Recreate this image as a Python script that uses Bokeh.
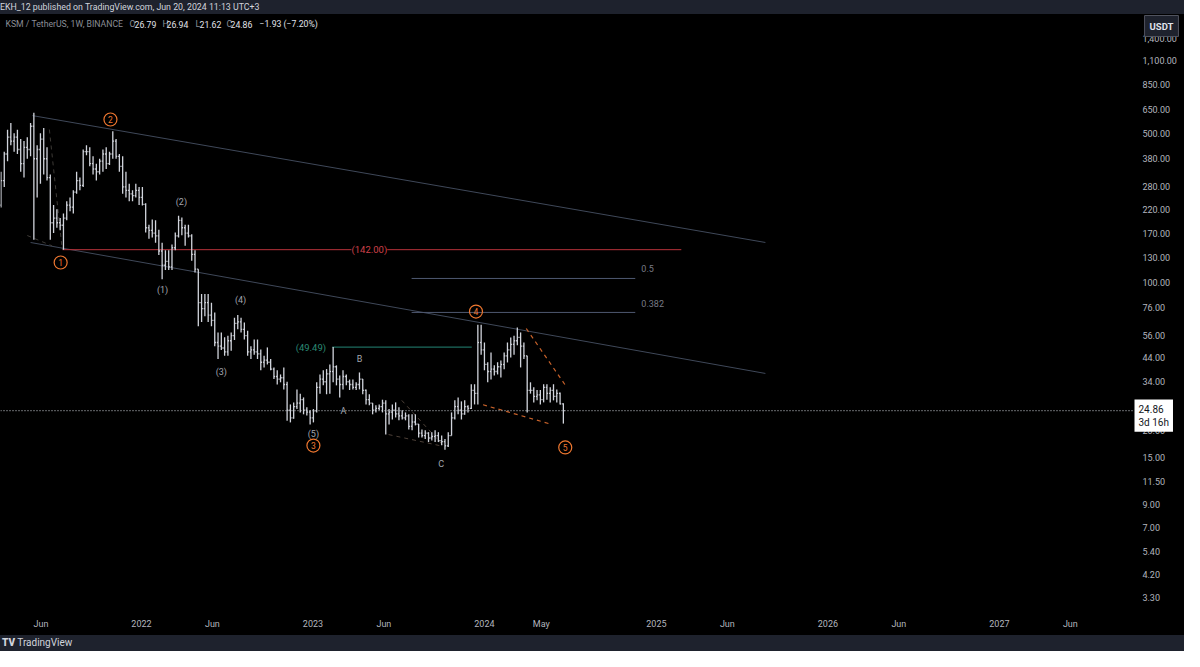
import pandas as pd
from bokeh.plotting import figure
from bokeh.models import (Range1d, FixedTicker, NumeralTickFormatter, Label,
                          Div, ColumnDataSource)
from bokeh.layouts import column
from bokeh.core.properties import value
from bokeh.embed import file_html
from bokeh.resources import INLINE

# ---------------- data (weekly KSM/USDT) ----------------
first_week = "2021-03-08"
opens = [230, 300, 400, 480, 460, 480, 420, 360, 430, 420,
         540, 380, 420, 470, 380, 310, 190, 200, 190, 185,
         200, 230, 225, 265, 300, 285, 410, 410, 360, 340,
         330, 370, 400, 360, 400, 460, 390, 350, 280, 270,
         260, 255, 270, 250, 232, 180, 175, 170, 165, 140,
         120, 125, 118, 145, 165, 195, 180, 170, 165, 135,
         115, 80, 75, 80, 70, 66, 52, 50, 49, 47,
         53, 56, 64, 65, 60, 56, 47, 48, 47, 46,
         42, 43, 42, 39, 36, 35, 35.5, 33, 25, 23,
         26, 27, 28, 25, 24.5, 23, 24.8, 32, 35, 34,
         37, 38, 40, 35, 33, 36, 34, 33, 32, 33,
         35, 31, 28, 27, 25, 25.5, 26, 27, 24, 24.5,
         25, 24, 23.5, 23, 23.5, 21, 22, 21.5, 19.5, 19,
         19.5, 18.5, 18.8, 19, 18, 17.8, 17, 19, 23, 26,
         25, 24, 26, 25.5, 31, 30, 52, 48, 41, 38,
         39, 38, 40, 41, 45, 48, 51, 53, 55, 50,
         45, 31, 31, 29, 29.5, 28, 32, 30, 31, 29,
         30, 26.79]
highs = [330, 410, 520, 560, 500, 520, 470, 460, 480, 560,
         625, 440, 500, 530, 430, 320, 230, 220, 200, 210,
         240, 250, 270, 330, 310, 420, 440, 430, 390, 360,
         380, 420, 430, 410, 512, 470, 400, 390, 330, 290,
         270, 290, 280, 280, 235, 186, 197, 195, 176, 153,
         141, 141, 150, 171, 205, 201, 186, 186, 168, 141,
         115, 88, 88, 88, 80, 72, 58, 58, 55, 56,
         58, 68, 70, 68, 64.6, 59, 50, 53.7, 53.7, 48.2,
         45, 49.3, 43.5, 39.7, 38.5, 36.8, 39.7, 34, 26.6, 27.2,
         31.3, 29.9, 28.7, 25.8, 25, 25.3, 33.8, 36.8, 38.5, 39,
         41, 49.49, 40.6, 36.4, 38.5, 36.8, 34.8, 34.8, 33.8, 37.6,
         35, 31.3, 29.7, 27, 26.4, 26.6, 28, 27.8, 25.3, 26.6,
         27.2, 25.8, 25, 24.4, 23.9, 23.9, 23.9, 21.5, 20.3, 20.1,
         19.7, 19.7, 20.1, 19.7, 19, 18.3, 19.7, 24.4, 27.8, 28.7,
         27.5, 27.8, 26.4, 33.1, 33.1, 63, 63, 52, 42, 46.7,
         40.6, 42, 42.8, 46.7, 52, 54.9, 56, 61.2, 58, 52,
         45, 33.8, 32, 31.1, 31.1, 33.1, 33.1, 32, 33.1, 31.3,
         30.3, 26.94]
lows = [224, 280, 370, 440, 410, 400, 330, 310, 380, 390,
        158, 250, 290, 320, 300, 158, 170, 180, 175, 142,
        195, 215, 210, 260, 270, 280, 395, 350, 320, 300,
        320, 330, 340, 355, 380, 380, 330, 260, 250, 240,
        240, 250, 230, 229, 171, 160, 162, 153, 134, 103,
        114, 114, 114, 141, 162, 166, 148, 162, 126, 111,
        62, 65, 69, 65, 62, 50, 43.5, 48, 45, 45,
        47.5, 53.5, 60, 58, 53.7, 45, 43.5, 45.6, 43.5, 38.5,
        39.7, 41, 38.5, 35, 33, 33.8, 31.3, 22.3, 21.9, 22.8,
        25.3, 24.4, 23.9, 23.6, 21.4, 21.9, 24.4, 29.9, 32.7, 29.7,
        29.9, 33.8, 32.7, 28.7, 31.3, 32.7, 31.1, 31.3, 31.1, 31.3,
        29.7, 26.6, 26.4, 23.9, 24.4, 25, 24.4, 19.2, 21.4, 22.6,
        23.1, 22.4, 22.6, 22.4, 20.3, 20.1, 21.2, 18.6, 18.6, 18.3,
        17.7, 18, 17.7, 17.7, 17.1, 16.3, 16.8, 19, 22.6, 23.9,
        22.6, 23.8, 24.4, 25.3, 26.6, 26.6, 45.6, 38.5, 33.8, 34.8,
        36.4, 36.8, 35.6, 38.9, 41.9, 44.2, 45.6, 50.5, 39.7, 43.5,
        24.4, 29.9, 27.2, 27.8, 26.6, 27.2, 28, 27.2, 27.8, 27.2,
        26.6, 21.62]
closes = [300, 400, 480, 460, 480, 420, 360, 430, 420, 540,
          380, 420, 470, 380, 310, 190, 200, 190, 185, 200,
          230, 225, 265, 300, 285, 410, 410, 360, 340, 330,
          370, 400, 360, 400, 460, 390, 350, 280, 270, 260,
          255, 270, 250, 232, 180, 175, 170, 165, 140, 120,
          125, 118, 145, 165, 195, 180, 170, 165, 135, 115,
          80, 75, 80, 70, 66, 52, 50, 49, 47, 53,
          56, 64, 65, 60, 56, 47, 48, 47, 46, 42,
          43, 42, 39, 36, 35, 35.5, 33, 25, 23, 26,
          27, 28, 25, 24.5, 23, 24.8, 32, 35, 34, 37,
          38, 40, 35, 33, 36, 34, 33, 32, 33, 35,
          31, 28, 27, 25, 25.5, 26, 27, 24, 24.5, 25,
          24, 23.5, 23, 23.5, 21, 22, 21.5, 19.5, 19, 19.5,
          18.5, 18.8, 19, 18, 17.8, 17, 19, 23, 26, 25,
          24, 26, 25.5, 31, 30, 52, 48, 41, 38, 39,
          38, 40, 41, 45, 48, 51, 53, 55, 50, 45,
          31, 31, 29, 29.5, 28, 32, 30, 31, 29, 30,
          26.79, 24.86]

last_price = 24.86
price_ticks = [3.3, 4.2, 5.4, 7, 9, 11.5, 15, 20, 26, 34, 44, 56, 76, 100,
               130, 170, 220, 280, 380, 500, 650, 850, 1100, 1400]
time_ticks = ["2021-06-01", "2022-01-01", "2022-06-01", "2023-01-01", "2023-06-01",
              "2024-01-01", "2024-05-01", "2025-01-01", "2025-06-01", "2026-01-01",
              "2026-06-01", "2027-01-01", "2027-06-01"]
time_labels = ["Jun", "2022", "Jun", "2023", "Jun", "2024", "May", "2025", "Jun",
               "2026", "Jun", "2027", "Jun"]
x_start, x_end = "2021-03-07 00:00", "2028-01-30 00:00"
price_scale_at = "2027-10-13 08:00"   # where the price scale begins
y_min, y_max = 2.86, 1810

# drawings (anchor points in time / price)
channel_upper_d, channel_upper_p = ["2021-05-14", "2025-08-21"], [606, 153.5]
channel_lower_d, channel_lower_p = ["2021-05-10", "2025-08-21"], [153.5, 37.2]
lvl142_d, lvl142_p = ["2021-07-17", "2025-02-23"], [142, 142]
fib05_d, fib05_p = ["2023-07-30", "2024-11-17"], [104, 104]
fib0382_d, fib0382_p = ["2023-07-30", "2024-11-17"], [72.0, 72.0]
lvl4949_d, lvl4949_p = ["2023-02-11", "2023-12-05"], [49.49, 49.49]
wedge_up_d, wedge_up_p = ["2024-03-30", "2024-06-21"], [60.5, 32.8]
wedge_lo_d, wedge_lo_p = ["2023-12-29", "2024-05-21"], [26.5, 21.5]
cdash1_d, cdash1_p = ["2023-07-09", "2023-10-09"], [27.8, 16.7]
cdash2_d, cdash2_p = ["2023-06-11", "2023-09-27"], [19.2, 17.05]
edash1_d, edash1_p = ["2021-06-19", "2021-07-16"], [521, 145]
edash2_d, edash2_p = ["2021-05-03", "2021-06-25"], [165.5, 148]

wave_labels = ["1", "2", "3", "4", "5"]
wave_dates = ["2021-07-13", "2021-10-27", "2023-01-02", "2023-12-14", "2024-06-21"]
wave_prices = [123.6, 581, 17.05, 72.7, 16.7]
sub_labels = ["(1)", "(2)", "(3)", "(4)", "(5)", "A", "B", "C"]
sub_dates = ["2022-02-15", "2022-03-27", "2022-06-20", "2022-07-31", "2023-01-02",
             "2023-03-07", "2023-04-10", "2023-10-01"]
sub_prices = [91.3, 239, 37.6, 82.8, 19.4, 24.7, 43.4, 14.0]

# ---------------- styling ----------------
BG = "#000000"
BAND = "#1e222d"
BAR = "#d1d4dc"
AX = "#b2b5be"
FONT = "Roboto"


def ms(d):
    return pd.Timestamp(d).value / 1e6


def dts(lst):
    return [pd.Timestamp(d) for d in lst]


dates = pd.date_range(first_week, periods=len(opens), freq="7D")
tick = pd.Timedelta(days=2.5)
src = ColumnDataSource(dict(x=dates, xl=dates - tick, xr=dates + tick,
                            o=opens, h=highs, l=lows, c=closes))

p = figure(width=1184, height=621, x_axis_type="datetime", y_axis_type="log",
           x_range=Range1d(ms(x_start), ms(x_end)), y_range=Range1d(y_min, y_max),
           y_axis_location="right", output_backend="svg", toolbar_location=None,
           background_fill_color=BG, border_fill_color=BG,
           min_border_left=0, min_border_top=0, min_border_right=0, min_border_bottom=25)
p.styles = {"background-color": BG}
p.outline_line_color = None
p.xgrid.grid_line_color = None
p.ygrid.grid_line_color = None

for ax in (p.xaxis[0], p.yaxis[0]):
    ax.axis_line_color = None
    ax.major_tick_line_color = None
    ax.minor_tick_line_color = None
    ax.major_label_text_color = AX
    ax.major_label_text_font = FONT
    ax.major_label_text_font_size = "9px"
p.xaxis.ticker = FixedTicker(ticks=[ms(t) for t in time_ticks])
p.xaxis.major_label_overrides = {ms(t): lab for t, lab in zip(time_ticks, time_labels)}
p.xaxis.major_label_standoff = 2
p.yaxis.ticker = FixedTicker(ticks=price_ticks)
p.yaxis.formatter = NumeralTickFormatter(format="0,0.00")
p.yaxis.major_label_standoff = 3
p.yaxis.fixed_location = ms(price_scale_at)

# drawings behind bars
def seg(d, pr, color, width=1, dash="solid", alpha=1.0):
    p.line(dts(d), pr, line_color=color, line_width=width, line_dash=dash, line_alpha=alpha)

seg(channel_upper_d, channel_upper_p, "#3f4859", 1)
seg(channel_lower_d, channel_lower_p, "#3f4859", 1)
seg(lvl142_d, lvl142_p, "#b8323a", 1)
seg(fib05_d, fib05_p, "#4e5870", 1)
seg(fib0382_d, fib0382_p, "#4e5870", 1)
seg(lvl4949_d, lvl4949_p, "#1d6b5e", 1.2)
seg(wedge_up_d, wedge_up_p, "#c8622a", 1.2, "4 4")
seg(wedge_lo_d, wedge_lo_p, "#c8622a", 1.2, "4 4")
seg(cdash1_d, cdash1_p, "#4d4038", 1, "4 4")
seg(cdash2_d, cdash2_p, "#4d4038", 1, "4 4")
seg(edash1_d, edash1_p, "#3d3a36", 1, "4 4")
seg(edash2_d, edash2_p, "#3d3a36", 1, "4 4")

# OHLC bars
p.segment(x0="x", y0="l", x1="x", y1="h", source=src, line_color=BAR, line_width=1.3)
p.segment(x0="xl", y0="o", x1="x", y1="o", source=src, line_color=BAR, line_width=1.3)
p.segment(x0="x", y0="c", x1="xr", y1="c", source=src, line_color=BAR, line_width=1.3)

# last price dotted line (up to the price scale)
p.line(dts([x_start, price_scale_at]), [last_price, last_price], line_color="#d1d4dc",
       line_dash="1 2", line_width=1)

# wave labels
p.scatter(dts(wave_dates), wave_prices, marker="circle", size=13, fill_color=None,
          line_color="#f07830", line_width=1.2)
p.text(dts(wave_dates), wave_prices, text=wave_labels, text_color="#f07830",
       text_font=value(FONT), text_font_size="8.5px", text_align="center",
       text_baseline="middle")
p.text(dts(sub_dates), sub_prices, text=sub_labels, text_color="#a3a6af",
       text_font=value(FONT), text_font_size="9px", text_align="center",
       text_baseline="middle")

# level labels
p.add_layout(Label(x=ms("2023-05-01"), y=142, text="(142.00)", text_color="#d0404a",
                   text_font=FONT, text_font_size="9.5px", text_align="center",
                   text_baseline="middle", background_fill_color=BG))
p.add_layout(Label(x=ms("2024-11-30"), y=115.8, text="0.5", text_color="#787b86",
                   text_font=FONT, text_font_size="9px", text_baseline="middle"))
p.add_layout(Label(x=ms("2024-11-30"), y=79.3, text="0.382", text_color="#787b86",
                   text_font=FONT, text_font_size="9px", text_baseline="middle"))
p.add_layout(Label(x=ms("2023-01-29"), y=49.49, text="(49.49)", text_color="#2b8a74",
                   text_font=FONT, text_font_size="9.5px", text_align="right",
                   text_baseline="middle"))

# symbol legend line (screen units, relative to frame bottom-left)
legend_parts = [("KSM / TetherUS, 1W, BINANCE", 5, "#8a8d96"),
                ("O", 129, "#8a8d96"), ("26.79", 134, "#e0e3eb"),
                ("H", 162, "#8a8d96"), ("26.94", 166, "#e0e3eb"),
                ("L", 195, "#8a8d96"), ("21.62", 199, "#e0e3eb"),
                ("C", 226, "#8a8d96"), ("24.86", 230, "#e0e3eb"),
                ("\u22121.93 (\u22127.20%)", 259, "#e0e3eb")]
for txt, sx, col in legend_parts:
    p.add_layout(Label(x=sx, y=586.5, x_units="screen", y_units="screen", text=txt,
                       text_color=col, text_font=FONT, text_font_size="8.7px",
                       text_baseline="middle"))

# currency button and last-price tag on the price scale
p.add_layout(Label(x=1161, y=584.5, x_units="screen", y_units="screen", text="USDT",
                   text_color="#e0e3eb", text_font=FONT, text_font_size="9.5px",
                   text_font_style="bold", text_align="center", text_baseline="middle",
                   background_fill_color=BAND, border_line_color="#50535e", padding=5))
p.add_layout(Label(x=1134, y=last_price, x_units="screen", y_units="data",
                   text="24.86\n3d 16h", text_color="#131722", text_font=FONT,
                   text_font_size="10px", text_align="left", text_baseline="middle",
                   y_offset=-5, background_fill_color="#ffffff", padding=4))

header = Div(text="EKH_12 published on TradingView.com, Jun 20, 2024 11:13 UTC+3",
             width=1184, height=14, margin=0,
             styles={"background-color": BAND, "color": "#d1d4dc", "font-size": "8.8px",
                     "font-family": FONT, "line-height": "14px", "white-space": "nowrap"})
footer = Div(text="<b style='font-weight:900'>TV</b> TradingView", width=1184, height=16,
             margin=0,
             styles={"background-color": BAND, "color": "#d1d4dc", "font-size": "10px",
                     "font-family": FONT, "line-height": "16px", "padding-left": "2px",
                     "white-space": "nowrap"})

layout = column(header, p, footer, spacing=0)
open("out.html", "w").write(file_html(layout, INLINE))
